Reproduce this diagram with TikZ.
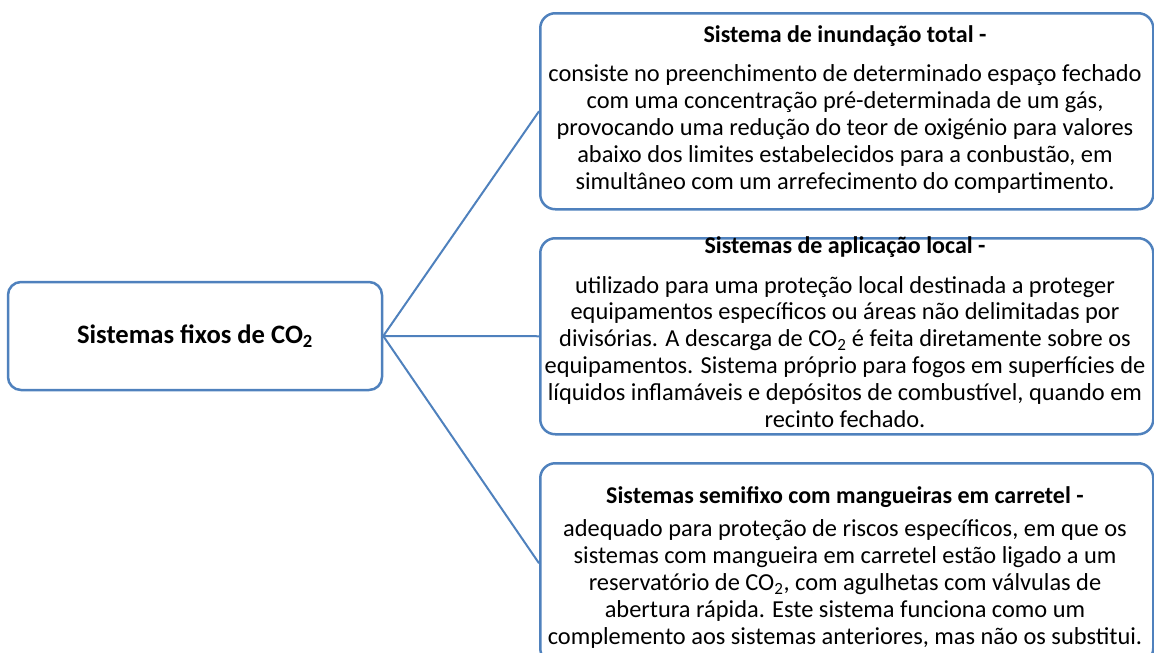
\documentclass[tikz,border=0pt]{standalone}
\usepackage{fontspec}
\setmainfont{Carlito}
\usetikzlibrary{positioning}
\definecolor{boxblue}{RGB}{79,129,189}
\tikzset{
  box/.style={draw=boxblue, line width=2.5pt, rounded corners=15pt, inner sep=0pt},
  heading/.style={font=\bfseries\fontsize{24}{24}\selectfont, anchor=base, inner sep=0pt},
  bodytext/.style={font=\fontsize{24.4}{26.8}\selectfont, align=center, anchor=base, inner sep=0pt},
  link/.style={draw=boxblue, line width=2pt}
}
\newcommand{\cotwo}{CO\textsubscript{2}}
\begin{document}
\begin{tikzpicture}[x=1pt, y=-1pt]
			%%%%% START %%%%%
			\useasboundingbox (0,0) rectangle (1154,653);
			
			\node[box, rounded corners=13pt, minimum width=374pt, minimum height=108pt,
				font=\bfseries\fontsize{26.6}{30}\selectfont] (root) at (195,336)
				{Sistemas fixos de \cotwo};
			
			\node[box, minimum width=613pt, minimum height=196pt, anchor=north west] (total) at (539,12) {};
			\node[box, minimum width=613pt, minimum height=196pt, anchor=north west] (local) at (539,237) {};
			\node[box, minimum width=613pt, minimum height=200pt, anchor=north west] (semi) at (539,462) {};
			
			% base = baseline of the last line
			\node[heading] (totalt) at (845,42) {Sistema de inundação total -};
			\node[bodytext] (totalb) at (845,189) {consiste no preenchimento de determinado espaço fechado\\
				com uma concentração pré-determinada de um gás,\\
				provocando uma redução do teor de oxigénio para valores\\
				abaixo dos limites estabelecidos para a conbustão, em\\
				simultâneo com um arrefecimento do compartimento.};
			
			\node[heading] (localt) at (845,253) {Sistemas de aplicação local -};
			\node[bodytext] (localb) at (845,427) {utilizado para uma proteção local destinada a proteger\\
				equipamentos específicos ou áreas não delimitadas por\\
				divisórias. A descarga de \cotwo{} é feita diretamente sobre os\\
				equipamentos. Sistema próprio para fogos em superfícies de\\
				líquidos inflamáveis e depósitos de combustível, quando em\\
				recinto fechado.};
			
			\node[heading] (semit) at (845,503) {Sistemas semifixo com mangueiras em carretel -};
			\node[bodytext] (semib) at (845,644) {adequado para proteção de riscos específicos, em que os\\
				sistemas com mangueira em carretel estão ligado a um\\
				reservatório de \cotwo, com agulhetas com válvulas de\\
				abertura rápida. Este sistema funciona como um\\
				complemento aos sistemas anteriores, mas não os substitui.};
			
			\draw[link] (root.east) -- (total.west);
			\draw[link] (root.east) -- (local.west);
			\draw[link] (root.east) -- (semi.west);
			
			%%%%% END %%%%%
\end{tikzpicture}
\end{document}
